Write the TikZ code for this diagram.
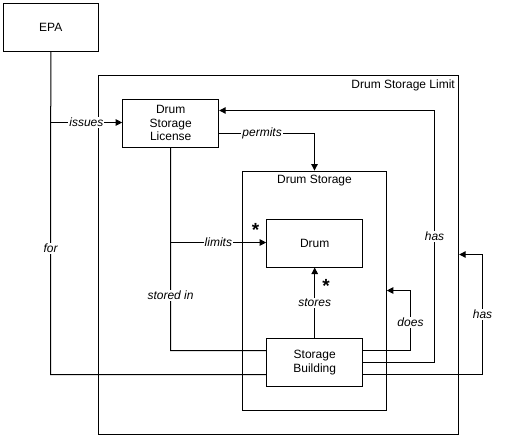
\documentclass[tikz,border=0pt]{standalone}
\usepackage{fontspec}
\setmainfont{Liberation Sans}
\usetikzlibrary{arrows.meta}
\begin{document}
\begin{tikzpicture}[x=1pt,y=-1pt,
  every node/.style={font=\fontsize{12}{13.7}\selectfont},
  box/.style={draw,line width=1pt,rectangle,inner sep=0pt,align=center},
  line/.style={line width=1pt},
  arr/.style={line width=1pt,-{Triangle[length=6.5pt,width=6.5pt]}},
  lab/.style={fill=white,inner sep=1pt,font=\fontsize{12}{13}\selectfont\itshape},
  star/.style={inner sep=0pt,font=\fontsize{19}{19}\selectfont\bfseries}]
\useasboundingbox (0,0) rectangle (514,437);
% containers
\node[box,minimum width=360pt,minimum height=359pt] (outer) at (278.7,254.8) {};
\node[anchor=east,inner sep=0pt] (outerlab) at (455,85) {Drum Storage Limit};
\node[box,minimum width=143.6pt,minimum height=239.3pt] (ds) at (314.5,290.7) {};
\node[inner sep=0pt] (dslab) at (314.5,181) {Drum Storage};
% entities
\node[box,fill=white,minimum width=95.5pt,minimum height=48pt] (epa) at (50.8,27.3) {EPA};
\node[box,fill=white,minimum width=96pt,minimum height=47.7pt] (lic) at (170.7,123.2) {Drum\\Storage\\License};
\node[box,fill=white,minimum width=96pt,minimum height=47.7pt] (drum) at (314.7,243.2) {Drum};
% connectors behind storage building
\draw[line] (epa.south) -- node[lab,pos=0.61]{for} (50.5,374.5) -- (266.7,374.5);
\draw[arr] (50.5,122.5) -- node[lab]{issues} (lic.west |- 0,122.5);
\draw[arr] (lic.east |- 0,133.5) -- node[lab,pos=0.45]{permits} (314.5,133.5) -- (ds.north);
\draw[line] (lic.south) -- node[lab,pos=0.73]{stored in} (170.5,350.5) -- (266.7,350.5);
\draw[arr] (170.5,242.5) -- node[lab]{limits} (drum.west |- 0,242.5);
\node[box,fill=white,minimum width=96pt,minimum height=47.7pt] (sb) at (314.7,362.2) {Storage\\Building};
\draw[arr] (sb.north) -- node[lab,pos=0.5]{stores} (drum.south);
\draw[arr] (sb.east |- 0,350.5) -- (410.5,350.5) -- node[lab,pos=0.47]{does} (410.5,290.5) -- (ds.east |- 0,290.5);
\draw[arr] (sb.east |- 0,362.5) -- (434.5,362.5) -- node[lab,pos=0.50]{has} (434.5,110.5) -- (lic.east |- 0,110.5);
\draw[arr] (sb.east |- 0,374.5) -- (482.5,374.5) -- node[lab,pos=0.5]{has} (482.5,254.5) -- (outer.east |- 0,254.5);
% multiplicity marks
\node[star] (s1) at (255.5,230) {*};
\node[star] (s2) at (326,286) {*};
\end{tikzpicture}
\end{document}
